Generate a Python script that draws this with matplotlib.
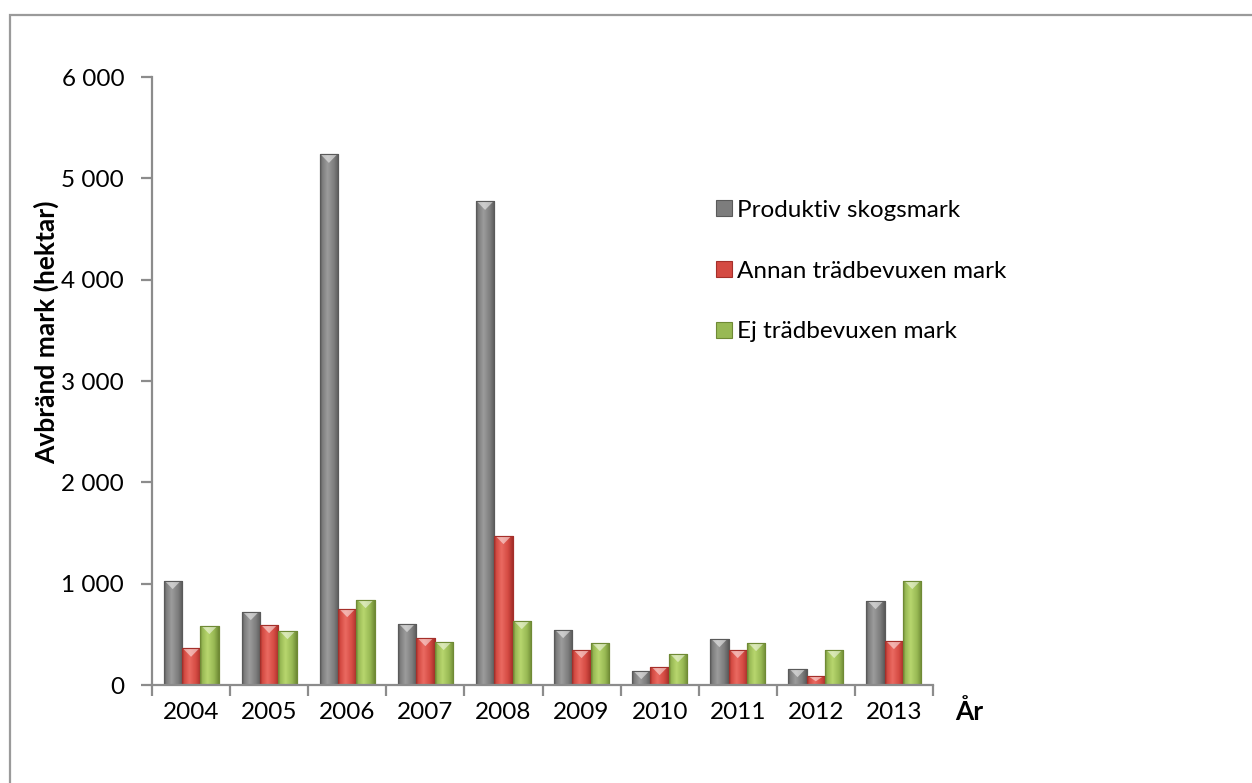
import numpy as np
import matplotlib
matplotlib.use("Agg")
import matplotlib.pyplot as plt
from matplotlib.colors import LinearSegmentedColormap
from matplotlib.patches import Polygon, Rectangle, Patch
from matplotlib.ticker import FuncFormatter, FixedLocator

plt.rcParams['font.family'] = ['Lato', 'DejaVu Sans']

years = ["2004", "2005", "2006", "2007", "2008", "2009", "2010", "2011", "2012", "2013"]
produktiv = [1030, 724, 5236, 605, 4772, 546, 141, 457, 161, 832]
annan = [362, 595, 753, 467, 1474, 349, 181, 349, 92, 438]
ej = [586, 536, 842, 428, 635, 418, 309, 418, 349, 1030]

series_names = ["Produktiv skogsmark", "Annan trädbevuxen mark", "Ej trädbevuxen mark"]
series_values = [produktiv, annan, ej]
# (dark, light, base) shades for the bevelled bars
palettes = [
    ("#5a5a5a", "#9c9c9c", "#7d7d7d"),
    ("#a52f2a", "#ea6a61", "#d44a42"),
    ("#6f8a35", "#b8d66e", "#98b954"),
]

W, H, DPI = 1252, 783, 100
fig = plt.figure(figsize=(W / DPI, H / DPI), dpi=DPI)
fig.patch.set_facecolor("white")

# outer frame
fig.add_artist(Rectangle((10 / W, -0.05), 1.2, 1 - 15 / H + 0.05,
                         transform=fig.transFigure, fill=False,
                         edgecolor="#9a9a9a", linewidth=1.6))

left, right, bottom, top = 152 / W, 933 / W, 1 - 685 / H, 1 - 77 / H
ax = fig.add_axes([left, bottom, right - left, top - bottom])

ymax = 6000
x = np.arange(len(years))
bw = 0.235
offsets = [-bw, 0, bw]
ax.set_xlim(-0.5, len(years) - 0.5)
ax.set_ylim(0, ymax)

px_per_unit = (top - bottom) * H / ymax
tri_h = 8.5 / px_per_unit

grad = np.linspace(0, 1, 64).reshape(1, -1)
for vals, off, (dark, light, base), name in zip(series_values, offsets, palettes, series_names):
    cmap = LinearSegmentedColormap.from_list(
        name, [(0, dark), (0.12, base), (0.4, light), (0.75, base), (1, dark)])
    bars = ax.bar(x + off, vals, width=bw, color=base, edgecolor=dark,
                  linewidth=0.8, zorder=2, label=name)
    for b in bars:
        x0, w, h = b.get_x(), b.get_width(), b.get_height()
        im = ax.imshow(grad, cmap=cmap, extent=[x0, x0 + w, 0, h],
                       aspect="auto", zorder=2.1, interpolation="bilinear")
        im.set_clip_path(b)
        d = min(tri_h, h * 0.6)
        tri = Polygon([(x0 + 0.05 * w, h), (x0 + 0.95 * w, h), (x0 + w / 2, h - d)],
                      closed=True, facecolor="white", alpha=0.5,
                      edgecolor="none", zorder=2.3)
        ax.add_patch(tri)
        ax.add_patch(Rectangle((x0, 0), w, h, fill=False, edgecolor=dark,
                               linewidth=0.8, zorder=2.4))

ax.set_xlim(-0.5, len(years) - 0.5)
ax.set_ylim(0, ymax)

for s in ["top", "right"]:
    ax.spines[s].set_visible(False)
for s in ["left", "bottom"]:
    ax.spines[s].set_color("#8c8c8c")
    ax.spines[s].set_linewidth(1.6)

fs = 17.5
ax.set_yticks(np.arange(0, ymax + 1, 1000))
ax.yaxis.set_major_formatter(FuncFormatter(lambda v, p: f"{int(v):,}".replace(",", " ")))
ax.tick_params(axis="y", length=8, width=1.6, color="#8c8c8c", labelsize=fs, pad=12,
               labelcolor="black")

ax.xaxis.set_major_locator(FixedLocator(np.arange(-0.5, len(years), 1.0)))
ax.xaxis.set_minor_locator(FixedLocator(x))
ax.set_xticklabels([], minor=False)
ax.set_xticklabels(years, minor=True)
ax.tick_params(axis="x", which="major", length=8, width=1.6, color="#8c8c8c")
ax.tick_params(axis="x", which="minor", length=0, labelsize=fs, pad=12)

fig.text(46 / W, 1 - 332 / H, "Avbränd mark (hektar)", rotation=90, fontsize=19,
         fontweight="bold", ha="center", va="center")
fig.text(955 / W, 1 - 712 / H, "År", fontsize=19, fontweight="bold",
         ha="left", va="center")

handles = [Patch(facecolor=p[2], edgecolor=p[0], linewidth=0.8) for p in palettes]
fig.legend(handles, series_names, loc="upper left",
           bbox_to_anchor=(706 / W, 1 - 190 / H), frameon=False, fontsize=fs,
           handlelength=0.66, handleheight=0.66, handletextpad=0.2,
           labelspacing=1.64, borderaxespad=0)

fig.savefig("out.png", dpi=DPI, facecolor="white")
